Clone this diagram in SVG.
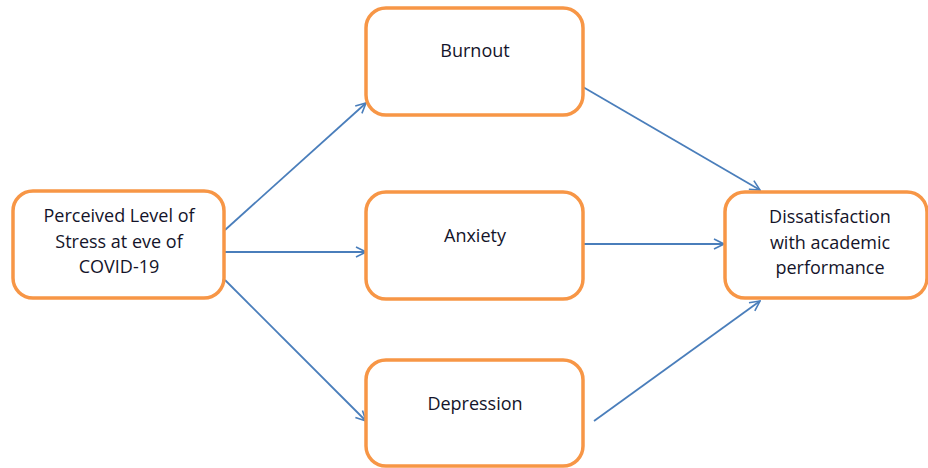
<svg xmlns="http://www.w3.org/2000/svg" width="928" height="468" viewBox="0 0 928 468">
<defs>
<marker id="arr" viewBox="0 0 12 12" refX="11" refY="6" markerWidth="12" markerHeight="12" markerUnits="userSpaceOnUse" orient="auto">
<path d="M1,1 L11,6 L1,11" fill="none" stroke="#4A7EBB" stroke-width="1.6"/>
</marker>
<style>
.box{fill:#fff;stroke:#F79646;stroke-width:3.5}
.t{font-family:"Open Sans","Liberation Sans",sans-serif;font-size:18px;fill:#14142A;text-anchor:middle}
.c{stroke:#4A7EBB;stroke-width:1.8;fill:none;marker-end:url(#arr)}
</style>
</defs>
<rect width="928" height="468" fill="#fff"/>
<g id="connectors">
<line class="c" x1="225" y1="230" x2="366" y2="103"/>
<line class="c" x1="225" y1="252" x2="366" y2="252"/>
<line class="c" x1="225" y1="280" x2="366" y2="421"/>
<line class="c" x1="583" y1="87" x2="760" y2="190"/>
<line class="c" x1="583" y1="244" x2="724" y2="244"/>
<line class="c" x1="594" y1="421" x2="760" y2="301"/>
</g>
<g id="stress">
<rect class="box" x="13" y="191" width="211" height="107" rx="20"/>
<text class="t" x="119" y="222">Perceived Level of</text>
<text class="t" x="119" y="248">Stress at eve of</text>
<text class="t" x="119" y="273">COVID-19</text>
</g>
<g id="burnout">
<rect class="box" x="366" y="8" width="217" height="107" rx="20"/>
<text class="t" x="475" y="57">Burnout</text>
</g>
<g id="anxiety">
<rect class="box" x="366" y="192" width="217" height="107" rx="20"/>
<text class="t" x="475" y="242">Anxiety</text>
</g>
<g id="depression">
<rect class="box" x="366" y="360" width="217" height="106" rx="20"/>
<text class="t" x="475" y="410">Depression</text>
</g>
<g id="dissatisfaction">
<rect class="box" x="725" y="192" width="202" height="106" rx="20"/>
<text class="t" x="830" y="223">Dissatisfaction</text>
<text class="t" x="830" y="249">with academic</text>
<text class="t" x="830" y="274">performance</text>
</g>
</svg>
